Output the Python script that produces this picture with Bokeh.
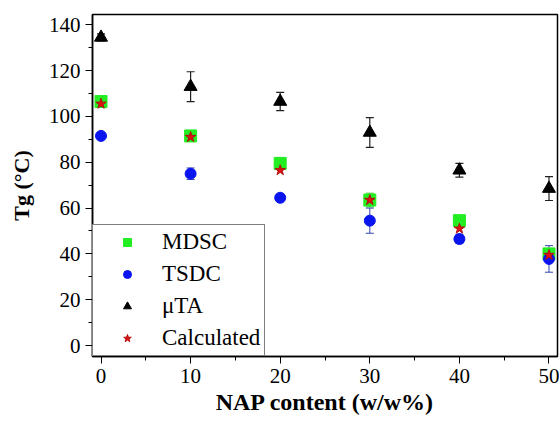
from bokeh.plotting import figure
from bokeh.models import (ColumnDataSource, Whisker, TeeHead, Legend, LegendItem,
                          FixedTicker, Range1d)
from bokeh.embed import file_html
from bokeh.resources import INLINE

# ---- data ----
nap = [0, 10, 20, 30, 40, 50]
mdsc = [106.5, 91.5, 79.5, 63.5, 54.5, 40.0]
mdsc_err = [1.5, 1.5, 2.5, 3.0, 1.0, 2.0]
tsdc = [91.5, 75.0, 64.5, 54.5, 46.5, 37.8]
tsdc_err = [0.5, 2.5, 0.5, 5.5, 2.0, 5.8]
uta = [134.5, 113.0, 106.5, 93.0, 76.5, 68.5]
uta_err = [1.5, 6.5, 4.0, 6.5, 3.0, 5.2]
calc = [105.5, 91.0, 76.5, 63.5, 51.0, 39.5]
x_ticks = [0, 10, 20, 30, 40, 50]
y_ticks = [0, 20, 40, 60, 80, 100, 120, 140]

FONT = "Liberation Serif"

def src(vals, errs=None):
    d = dict(x=nap, y=vals)
    if errs is not None:
        d["lo"] = [v - e for v, e in zip(vals, errs)]
        d["hi"] = [v + e for v, e in zip(vals, errs)]
    return ColumnDataSource(d)

s_mdsc = src(mdsc, mdsc_err)
s_tsdc = src(tsdc, tsdc_err)
s_uta = src(uta, uta_err)
s_calc = src(calc)

p = figure(width=559, height=425, output_backend="svg", toolbar_location=None,
           x_range=Range1d(-0.95, 50.95), y_range=Range1d(-4.8, 144.5),
           min_border_left=92, min_border_right=2, min_border_top=14,
           min_border_bottom=69)
p.grid.visible = False
p.outline_line_color = "black"
p.outline_line_width = 1.5
p.background_fill_color = "white"
p.border_fill_color = "white"

p.axis.axis_line_color = "black"
p.axis.axis_line_width = 1.5
p.axis.major_tick_line_color = "black"
p.axis.minor_tick_line_color = "black"
p.axis.major_tick_out = 7
p.axis.major_tick_in = 0
p.axis.minor_tick_out = 4
p.axis.minor_tick_in = 0
p.axis.major_label_text_font = FONT
p.axis.major_label_text_font_size = "21px"
p.axis.major_label_text_color = "black"

p.xaxis.ticker = FixedTicker(ticks=x_ticks, minor_ticks=[5, 15, 25, 35, 45])
p.yaxis.ticker = FixedTicker(ticks=y_ticks, minor_ticks=[10, 30, 50, 70, 90, 110, 130])
p.xaxis.major_label_standoff = 5
p.yaxis.major_label_standoff = 5

p.axis.axis_label_text_font = FONT
p.axis.axis_label_text_font_style = "bold"
p.axis.axis_label_text_color = "black"

p.xaxis.axis_label = "NAP content (w/w%)"
p.xaxis.axis_label_text_font_size = "24px"
p.xaxis.axis_label_standoff = 3

p.yaxis.axis_label = "Tg (\u00b0C)"
p.yaxis.axis_label_text_font_size = "22px"
p.yaxis.axis_label_standoff = 12

# whiskers
for s, col, w in ((s_uta, "#222222", 1.2), (s_mdsc, "#33cc33", 1.0), (s_tsdc, "#3344aa", 1.0)):
    wk = Whisker(source=s, base="x", upper="hi", lower="lo", line_color=col, line_width=w,
                 upper_head=TeeHead(size=8, line_color=col, line_width=w),
                 lower_head=TeeHead(size=8, line_color=col, line_width=w))
    p.add_layout(wk)

r_mdsc = p.scatter("x", "y", source=s_mdsc, marker="square", size=12,
                   fill_color="#22ee22", line_color="#22ee22")
r_tsdc = p.scatter("x", "y", source=s_tsdc, marker="circle", size=11,
                   fill_color="#0a14ee", line_color="#0a14ee")
r_uta = p.scatter("x", "y", source=s_uta, marker="triangle", size=13,
                  fill_color="black", line_color="black")
r_calc = p.scatter("x", "y", source=s_calc, marker="star", size=11,
                   fill_color="#e01010", line_color="#b01010")

legend = Legend(items=[LegendItem(label="MDSC", renderers=[r_mdsc]),
                       LegendItem(label="TSDC", renderers=[r_tsdc]),
                       LegendItem(label="\u03bcTA", renderers=[r_uta]),
                       LegendItem(label="Calculated", renderers=[r_calc])],
                location=(0, 0), orientation="vertical")
legend.label_text_font = FONT
legend.label_text_font_size = "23px"
legend.label_text_color = "black"
legend.glyph_width = 60
legend.glyph_height = 20
legend.label_height = 20
legend.label_standoff = 5
legend.spacing = 6
legend.padding = 4
legend.margin = 0
legend.border_line_color = "black"
legend.border_line_width = 1.2
legend.background_fill_alpha = 1.0
p.add_layout(legend)

open("out.html", "w").write(file_html(p, INLINE))
